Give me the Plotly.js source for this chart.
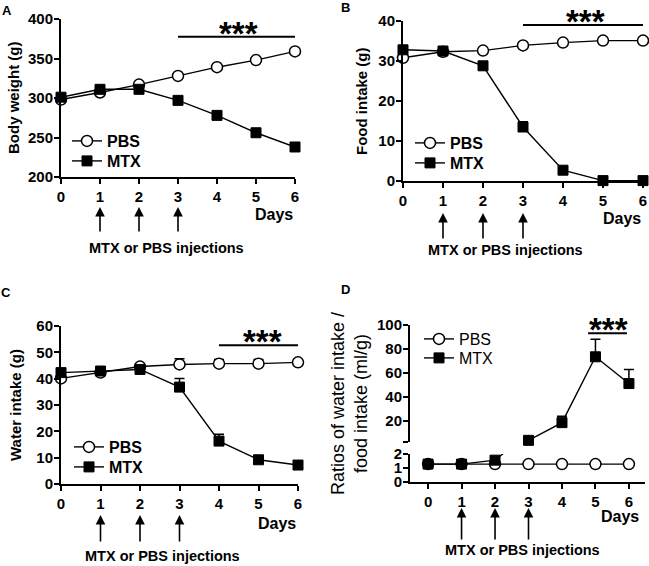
<!DOCTYPE html>
<html><head><meta charset="utf-8">
<script src="https://cdn.plot.ly/plotly-3.0.1.min.js"></script>
<style>html,body{margin:0;padding:0;background:#fff}</style>
</head><body><div id="chart" style="width:649px;height:566px"></div>
<script>
// ---------- data ----------
const days = [0, 1, 2, 3, 4, 5, 6];
const injectionDays = [1, 2, 3];
// A: body weight (g)
const bwPBS = [298, 307, 317, 328, 339, 348, 359];
const bwMTX = [301, 311, 311, 297, 278, 256, 238];
// B: food intake (g)
const foodPBS = [30.8, 32.3, 32.6, 33.9, 34.6, 35.1, 35.1];
const foodMTX = [32.8, 32.5, 28.8, 13.5, 2.7, 0.1, 0.1];
const foodMTXerr = [null, null, null, 1.3, null, null, null];
// C: water intake (g)
const waterPBS = [40.1, 42.3, 44.6, 45.4, 45.7, 45.7, 46.2];
const waterPBSerr = [null, null, null, 2.2, 1.6, 1.6, null];
const waterMTX = [42.3, 42.9, 43.5, 36.8, 16.3, 9.2, 7.2];
const waterMTXerr = [null, null, null, 3.3, 2.6, null, null];
// D: ratio water / food intake (ml/g)
const ratioPBS = [1.28, 1.28, 1.28, 1.28, 1.28, 1.28, 1.28];
const ratioMTX = [1.28, 1.28, 1.56, 3.5, 18.3, 73.4, 51];
const ratioMTXerr = [null, null, null, null, 5.3, 14.6, 11.8];
// significance bars: [start day, end day, y level, stars x]
const sigA = [3, 6, 377.5, 4.55];
const sigB = [3, 6, 39, 4.55];
const sigC = [4, 6, 52.7, 5.1];
const sigD = [4.78, 5.94, 93, 5.4];

// ---------- helpers ----------
const FONT = 'Liberation Sans, Arial, sans-serif';
const BLACK = '#000';
const pbsMarker = {symbol: 'circle', size: 11, color: '#fff', line: {color: BLACK, width: 1.5}};
const mtxMarker = {symbol: 'square', size: 10, color: BLACK, line: {color: BLACK, width: 1}};
const lineStyle = {color: BLACK, width: 1.4};
function errUp(arr) {
  return {type: 'data', symmetric: false, array: arr, arrayminus: arr.map(v => v === null ? null : 0),
          color: BLACK, thickness: 1.5, width: 5, visible: true};
}
function tr(x, y, xa, ya, name, marker, legend, extra) {
  return Object.assign({type: 'scatter', mode: 'lines+markers', x: x, y: y, xaxis: xa, yaxis: ya,
    name: name, marker: marker, line: lineStyle, legend: legend, cliponaxis: false}, extra || {});
}

const traces = [
  tr(days, bwPBS, 'x', 'y', 'PBS', pbsMarker, 'legend'),
  tr(days, bwMTX, 'x', 'y', 'MTX', mtxMarker, 'legend2'),
  tr(days, foodPBS, 'x2', 'y2', 'PBS', pbsMarker, 'legend3'),
  tr(days, foodMTX, 'x2', 'y2', 'MTX', mtxMarker, 'legend4', {error_y: errUp(foodMTXerr)}),
  tr(days, waterPBS, 'x3', 'y3', 'PBS', pbsMarker, 'legend5', {error_y: errUp(waterPBSerr)}),
  tr(days, waterMTX, 'x3', 'y3', 'MTX', mtxMarker, 'legend6', {error_y: errUp(waterMTXerr)}),
  tr(days, ratioPBS, 'x4', 'y4', 'PBS', pbsMarker, 'legend7', {cliponaxis: true}),
  tr(days, ratioMTX, 'x4', 'y4', 'MTX', mtxMarker, 'legend8', {cliponaxis: true}),
  tr(days.slice(3), ratioMTX.slice(3), 'x4', 'y5', 'MTX', mtxMarker, 'legend8',
     {showlegend: false, error_y: errUp(ratioMTXerr.slice(3))})
];

const W = 649, H = 566;
const px = v => v / W;
const py = v => 1 - v / H;
const tickFont = {family: FONT, size: 15, weight: 'bold', color: BLACK};
function ax(extra) {
  return Object.assign({showline: true, linecolor: BLACK, linewidth: 2, ticks: 'outside', ticklen: 5,
    tickwidth: 2, tickcolor: BLACK, showgrid: false, zeroline: false, tickfont: tickFont,
    fixedrange: true, automargin: false}, extra);
}
function yax(extra) {
  return ax(Object.assign({ticklabelstandoff: -2}, extra));
}
// legend entry placed by its marker centre (mx, my)
function legendAt(mx, my, bold) {
  return {x: px(mx - 20), y: py(my - 15), xanchor: 'left', yanchor: 'top', bgcolor: 'rgba(0,0,0,0)',
    font: {family: FONT, size: 16, weight: bold ? 'bold' : 'normal', color: BLACK},
    itemclick: false};
}

const annotations = [];
const shapes = [];
function panelLetter(t, x, y) {
  annotations.push({text: t, xref: 'paper', yref: 'paper', x: px(x), y: py(y), showarrow: false,
    font: {family: FONT, size: 13, weight: 'bold', color: BLACK}, xanchor: 'center', yanchor: 'middle'});
}
function yTitle(t, x, y, bold, size) {
  annotations.push({text: t, xref: 'paper', yref: 'paper', x: px(x), y: py(y), showarrow: false,
    textangle: -90, font: {family: FONT, size: size, weight: bold ? 'bold' : 'normal', color: BLACK},
    xanchor: 'center', yanchor: 'middle'});
}
function daysLabel(x, y) {
  annotations.push({text: 'Days', xref: 'paper', yref: 'paper', x: px(x), y: py(y), showarrow: false,
    font: {family: FONT, size: 16, weight: 'bold', color: BLACK}, xanchor: 'right', yanchor: 'middle'});
}
function injections(xa, tipY, tail, textX, textY) {
  injectionDays.forEach(d => annotations.push({text: '', xref: xa, yref: 'paper', x: d, y: py(tipY),
    showarrow: true, ax: 0, ay: tail, arrowhead: 2, arrowsize: 1.2, arrowwidth: 1.6, arrowcolor: BLACK}));
  annotations.push({text: 'MTX or PBS injections', xref: 'paper', yref: 'paper', x: px(textX), y: py(textY),
    showarrow: false, font: {family: FONT, size: 14.5, weight: 'bold', color: BLACK},
    xanchor: 'center', yanchor: 'middle'});
}
function sig(xa, ya, s) {
  shapes.push({type: 'line', xref: xa, yref: ya, x0: s[0], x1: s[1], y0: s[2], y1: s[2],
    line: {color: BLACK, width: 2}});
  annotations.push({text: '***', xref: xa, yref: ya, x: s[3], y: s[2], showarrow: false,
    font: {family: FONT, size: 33, weight: 'bold', color: BLACK}, xanchor: 'center', yanchor: 'bottom',
    yshift: -17});
}

panelLetter('A', 7, 10);
panelLetter('B', 345, 8);
panelLetter('C', 6, 292);
panelLetter('D', 345, 289);

yTitle('Body weight (g)', 13, 98, true, 15);
yTitle('Food intake (g)', 362, 101, true, 15);
yTitle('Water intake (g)', 15, 405, true, 15);
yTitle('Ratios of water intake /<br>food intake (ml/g)', 349, 404, false, 18);

daysLabel(295, 214);
daysLabel(643, 219);
daysLabel(298, 523);
daysLabel(641, 516);

injections('x', 207, 26, 166, 248);
injections('x2', 213, 27, 505, 250);
injections('x3', 515, 28, 162, 556);
injections('x4', 508, 33, 522, 550);

sig('x', 'y', sigA);
sig('x2', 'y2', sigB);
sig('x3', 'y3', sigC);
sig('x4', 'y5', sigD);

const layout = {
  width: W, height: H, autosize: false,
  margin: {l: 0, r: 0, t: 0, b: 0},
  paper_bgcolor: '#fff', plot_bgcolor: 'rgba(0,0,0,0)',
  showlegend: true,
  xaxis: ax({domain: [px(61), px(295)], range: [0, 6], tickvals: days, anchor: 'y'}),
  yaxis: yax({domain: [py(177), py(19)], range: [200, 400], dtick: 50, anchor: 'x'}),
  xaxis2: ax({domain: [px(403), px(643)], range: [0, 6], tickvals: days, anchor: 'y2'}),
  yaxis2: yax({domain: [py(181), py(21)], range: [0, 40], dtick: 10, anchor: 'x2'}),
  xaxis3: ax({domain: [px(61), px(298)], range: [0, 6], tickvals: days, anchor: 'y3'}),
  yaxis3: yax({domain: [py(484), py(326)], range: [0, 60], dtick: 10, anchor: 'x3'}),
  xaxis4: ax({domain: [px(410), px(645)], range: [-0.54, 6.48], tickvals: days, anchor: 'y4'}),
  yaxis4: yax({domain: [py(482), py(454)], range: [0, 2], tickvals: [0, 1, 2], anchor: 'x4'}),
  yaxis5: yax({domain: [py(442), py(325)], range: [2.1, 100], tickvals: [2.1, 20, 40, 60, 80, 100],
              ticktext: ['', '20', '40', '60', '80', '100'], anchor: 'x4'}),
  legend: legendAt(87, 139, true),
  legend2: legendAt(87, 159, true),
  legend3: legendAt(430, 141, true),
  legend4: legendAt(430, 161, true),
  legend5: legendAt(89, 445, true),
  legend6: legendAt(89, 465, true),
  legend7: legendAt(439, 337, false),
  legend8: legendAt(439, 356, false),
  annotations: annotations,
  shapes: shapes
};

Plotly.newPlot('chart', traces, layout, {staticPlot: true, displayModeBar: false});
</script>
</body></html>
